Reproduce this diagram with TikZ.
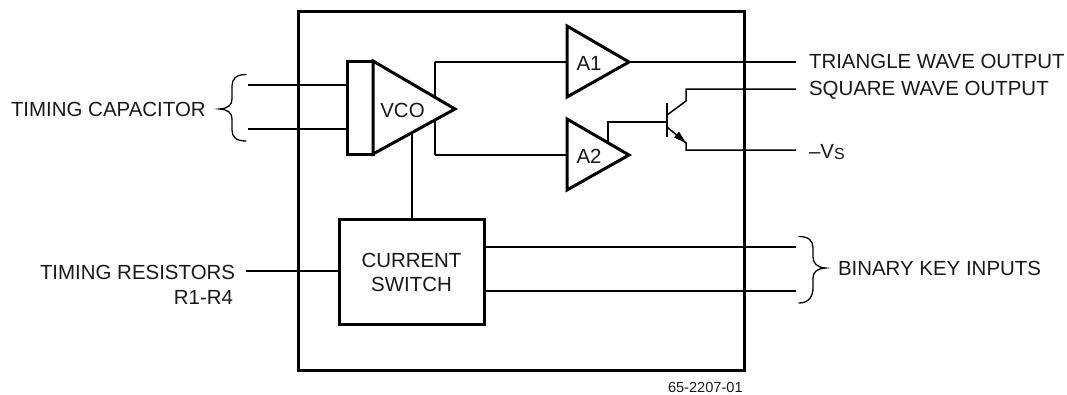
\documentclass[tikz,border=0pt]{standalone}
\usepackage{fontspec}
\setmainfont{Liberation Sans}
\tikzset{
  x=1pt,y=-1pt,
  wire/.style={line width=1.5pt,line join=miter},
  heavy/.style={line width=3pt,line join=miter,outer sep=0pt},
  thinbrace/.style={line width=1.3pt,line cap=round},
  lbl/.style={inner sep=0pt,outer sep=0pt,font=\fontsize{20.45}{23}\selectfont,anchor=base west,text=black!90},
  inlbl/.style={inner sep=0pt,outer sep=0pt,font=\fontsize{20.45}{24}\selectfont,align=center,text=black!90},
}
\begin{document}
\begin{tikzpicture}
\useasboundingbox (0,0) rectangle (1067,394);
% ports
\coordinate (capA) at (248,85);
\coordinate (capB) at (248,129);
\coordinate (capAe) at (347,85);
\coordinate (capBe) at (347,129);
\coordinate (vcoL) at (373,61);
\coordinate (vcoB) at (373,154);
\coordinate (vcoT) at (455,109);
\coordinate (vcoTap) at (435,109);
\coordinate (vcoDown) at (412,132);
\coordinate (a1in) at (567,62);
\coordinate (a2in) at (567,155);
\coordinate (a1out) at (629,62);
\coordinate (a2base) at (608,142);
\coordinate (triOut) at (796,62);
\coordinate (sqOut) at (796,89);
\coordinate (vsOut) at (796,150);
\coordinate (base) at (667,122);
\coordinate (coll) at (686,101);
\coordinate (collB) at (667,115);
\coordinate (emit) at (686,143);
\coordinate (emitB) at (667,127);
\coordinate (resIn) at (246,271);
\coordinate (binA) at (796,247);
\coordinate (binB) at (796,291);
% outer box
\node[draw,heavy,inner sep=0pt,minimum width=446pt,minimum height=359pt,anchor=north west] (chip) at (298,11) {};
% wires first
\draw[wire] (capA) -- (capAe);
\draw[wire] (capB) -- (capBe);
\draw[wire] (vcoTap |- a1in) -- (a1in);
\draw[wire] (vcoTap |- a2in) -- (a2in);
\draw[wire] (vcoTap |- a1in) -- (vcoTap |- a2in);
\draw[wire] (a1out) -- (triOut);
\draw[wire] (a2base) |- (base);
\draw[wire] (collB) -- (coll) -- (coll |- sqOut) -- (sqOut);
\draw[wire] (emitB) -- (emit) -- (emit |- vsOut) -- (vsOut);
\fill (686,143) -- (674,137.5) -- (679,131.5) -- cycle;
\draw[wire,line width=1.8pt] (667,103) -- (667,137);
% VCO
\node[draw,heavy,fill=white,inner sep=0pt,minimum width=26pt,minimum height=93pt,anchor=north west] (vcoin) at (347,61) {};
\draw[heavy,fill=white] (vcoL) -- (vcoT) -- (vcoB) -- cycle;
\node[inlbl,anchor=center] (vco) at (402.5,110) {VCO};
% A1, A2
\draw[heavy,fill=white] (567,26) -- (629,62) -- (567,97) -- cycle;
\node[inlbl,anchor=center] (a1) at (589,63) {A1};
\draw[heavy,fill=white] (567,119) -- (629,155) -- (567,190) -- cycle;
\node[inlbl,anchor=center] (a2) at (589,156) {A2};
% current switch
\node[draw,heavy,fill=white,inner sep=0pt,minimum width=145pt,minimum height=105pt,anchor=north west] (sw) at (339,219) {};
\node[inlbl,anchor=center] (swtext) at (411.5,272) {CURRENT\\SWITCH};
\draw[wire] (vcoDown) -- (vcoDown |- sw.north);
\draw[wire] (resIn) -- (resIn -| sw.west);
\draw[wire] (binA -| sw.east) -- (binA);
\draw[wire] (binB -| sw.east) -- (binB);
% braces
\draw[thinbrace] (246,74.5) .. controls (236,74.5) and (232,79) .. (232,86) -- (232,99) .. controls (232,105) and (228,108.5) .. (219.5,109) .. controls (228,109.5) and (232,113) .. (232,119) -- (232,130) .. controls (232,137) and (236,141) .. (246,141);
\draw[thinbrace] (799,236.5) .. controls (809,236.5) and (813,241) .. (813,248) -- (813,257) .. controls (813,263) and (817,267.5) .. (825.5,268) .. controls (817,268.5) and (813,272) .. (813,278) -- (813,288) .. controls (813,296) and (809,303) .. (799,303);
% labels
\node[lbl] (tcap) at (11,116) {TIMING CAPACITOR};
\node[lbl] (tres) at (40,279) {TIMING RESISTORS};
\node[lbl,anchor=base east] (r14) at (233,304) {R1-R4};
\node[lbl] (tri) at (809,68.5) {TRIANGLE WAVE OUTPUT};
\node[lbl] (sq) at (809,95) {SQUARE WAVE OUTPUT};
\node[lbl] (vs) at (809,158) {–V\fontsize{16}{18}\selectfont\raisebox{-1.5pt}{S}};
\node[lbl] (bin) at (838,275) {BINARY KEY INPUTS};
\node[lbl,font=\fontsize{14.6}{16}\selectfont] (code) at (668,392) {65-2207-01};
\end{tikzpicture}
\end{document}
